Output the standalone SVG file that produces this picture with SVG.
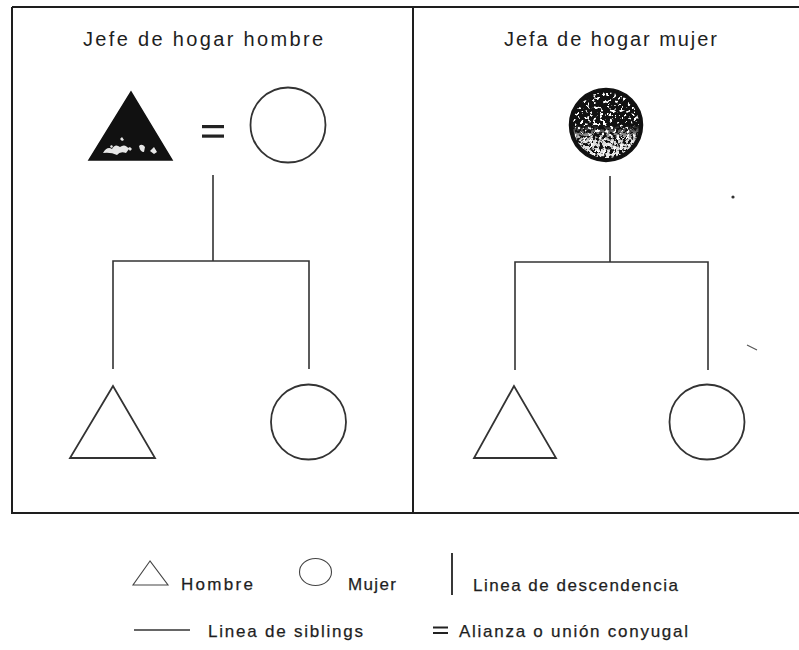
<svg xmlns="http://www.w3.org/2000/svg" width="799" height="650" viewBox="0 0 799 650">
<style>
.frame{stroke:#1e1e1e;stroke-width:2;fill:none}
.ln{stroke:#333;stroke-width:1.6;fill:none}
.shape{stroke:#333;stroke-width:1.8;fill:none}
.title{font-family:"Liberation Sans",Arial,sans-serif;font-size:20px;fill:#1e1e1e}
.leg{font-family:"Liberation Sans",Arial,sans-serif;font-size:17px;fill:#1e1e1e;stroke:#1e1e1e;stroke-width:0.25}
</style>
<defs>
<filter id="speck" x="0" y="0" width="1" height="1">
<feTurbulence type="fractalNoise" baseFrequency="0.3" numOctaves="3" seed="7" result="n"/>
<feColorMatrix in="n" type="matrix" values="0 0 0 0 1  0 0 0 0 1  0 0 0 0 1  0 0 0 12 -7.0" result="spots"/>
<feComposite in="spots" in2="SourceGraphic" operator="in"/>
</filter>
<filter id="speck2" x="0" y="0" width="1" height="1">
<feTurbulence type="fractalNoise" baseFrequency="0.3" numOctaves="3" seed="11" result="n"/>
<feColorMatrix in="n" type="matrix" values="0 0 0 0 0.85  0 0 0 0 0.85  0 0 0 0 0.85  0 0 0 10 -4.4" result="spots"/>
<feComposite in="spots" in2="SourceGraphic" operator="in"/>
</filter>
<linearGradient id="fade" x1="0" y1="0" x2="0" y2="1">
<stop offset="0" stop-color="#fff" stop-opacity="0"/>
<stop offset="0.5" stop-color="#fff" stop-opacity="0"/>
<stop offset="0.72" stop-color="#fff" stop-opacity="0.9"/>
<stop offset="1" stop-color="#fff" stop-opacity="1"/>
</linearGradient>
<clipPath id="cclip"><circle cx="606" cy="125" r="33"/></clipPath>
</defs>
<g id="frame">
<path class="frame" d="M12 7 H799 M12 7 V513 H799 M413 7 V513"/>
</g>
<g id="titles">
<text class="title" x="83" y="46" textLength="240" lengthAdjust="spacing">Jefe de hogar hombre</text>
<text class="title" x="504" y="46" textLength="213" lengthAdjust="spacing">Jefa de hogar mujer</text>
</g>
<g id="connectors">
<path class="ln" d="M213 175 V261 M113 369 V261 H309 V369"/>
<path class="ln" d="M610 176 V262 M515 370 V262 H708 V370"/>
</g>
<g id="jefe-hombre">
<polygon points="131,92 89,160 172,160" fill="#111" stroke="#111" stroke-width="1.5"/>
<path d="M103 153 q4 -7 9 -4 q3 -6 8 -2 q5 -4 9 2 l-3 4 q-6 -2 -9 2 q-6 -3 -14 -2z M139 146 q3 -3 6 1 l-1 5 q-4 0 -5 -6z M150 151 l4 -4 l3 5 l-3 2z M120 139 l2 -2 l2 3 l-2 1z M110 146 l2 -1 l1 2 l-2 1z M128 148 l2 -1 l2 2 l-2 2z" fill="#e6e6e6"/>
</g>
<g id="union">
<rect x="202" y="125" width="22" height="3.2" fill="#222"/>
<rect x="202" y="134.5" width="22" height="3.2" fill="#222"/>
</g>
<g id="esposa">
<circle class="shape" cx="288" cy="125" r="37.5"/>
</g>
<g id="hijo-1">
<polygon class="shape" points="113,386 70,458 155,458"/>
</g>
<g id="hija-1">
<circle class="shape" cx="308.5" cy="422" r="37.5"/>
</g>
<g id="jefa-mujer">
<circle cx="606" cy="125" r="36.5" fill="#111" stroke="#111" stroke-width="1.5"/>
<g clip-path="url(#cclip)">
<rect x="570" y="89" width="72" height="72" fill="#fff" filter="url(#speck)"/>
<rect x="570" y="89" width="72" height="72" fill="url(#fade)" filter="url(#speck2)"/>
</g>
</g>
<g id="hijo-2">
<polygon class="shape" points="514,386 474,458 556,458"/>
</g>
<g id="hija-2">
<circle class="shape" cx="707" cy="422" r="37.5"/>
</g>
<g id="marks">
<circle cx="733" cy="197" r="1.6" fill="#333"/>
<path d="M747 345 L757 350" stroke="#555" stroke-width="1.2"/>
</g>
<g id="legend">
<polygon points="150,561 133,585 168,585" fill="none" stroke="#444" stroke-width="1.1"/>
<text class="leg" x="181" y="590" textLength="72" lengthAdjust="spacing">Hombre</text>
<ellipse cx="315.5" cy="572" rx="16" ry="13.5" fill="none" stroke="#444" stroke-width="1.1"/>
<text class="leg" x="348" y="590" textLength="48" lengthAdjust="spacing">Mujer</text>
<path d="M452 553 V595" stroke="#222" stroke-width="1.8"/>
<text class="leg" x="473" y="591" textLength="205" lengthAdjust="spacing">Linea de descendencia</text>
<path d="M134 630 H190" stroke="#333" stroke-width="1.5"/>
<text class="leg" x="208" y="637" textLength="155" lengthAdjust="spacing">Linea de siblings</text>
<path d="M433 627.5 H448 M433 633 H448" stroke="#222" stroke-width="2"/>
<text class="leg" x="459" y="637" textLength="229" lengthAdjust="spacing">Alianza o unión conyugal</text>
</g>
</svg>
